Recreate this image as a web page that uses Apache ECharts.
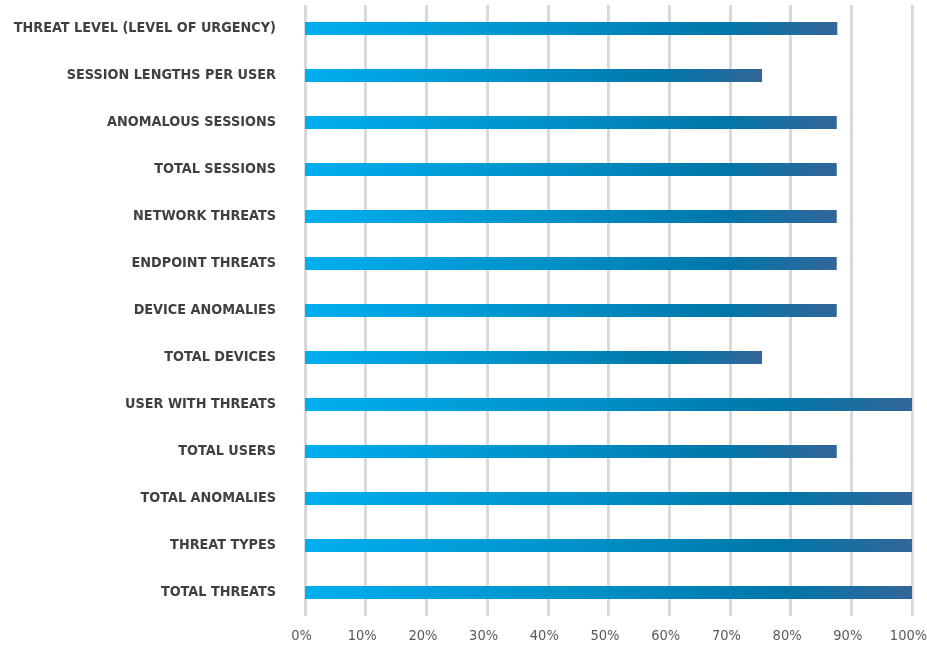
<!DOCTYPE html>
<html>
<head>
<meta charset="utf-8">
<script src="https://cdn.jsdelivr.net/npm/echarts@6/dist/echarts.min.js"></script>
<style>
	html, body { margin: 0; padding: 0; background: #ffffff; }
	#main { width: 927px; height: 651px; }
</style>
</head>
<body>
<div id="main"></div>
<script>
	// categories from bottom to top (category axis draws first item at bottom)
	var categories = [
		'TOTAL THREATS',
		'THREAT TYPES',
		'TOTAL ANOMALIES',
		'TOTAL USERS',
		'USER WITH THREATS',
		'TOTAL DEVICES',
		'DEVICE ANOMALIES',
		'ENDPOINT THREATS',
		'NETWORK THREATS',
		'TOTAL SESSIONS',
		'ANOMALOUS SESSIONS',
		'SESSION LENGTHS PER USER',
		'THREAT LEVEL (LEVEL OF URGENCY)'
	];
	var values = [100, 100, 100, 87.6, 100, 75.3, 87.6, 87.6, 87.6, 87.6, 87.6, 75.3, 87.7];

	var myChart = echarts.init(document.getElementById('main'));
	myChart.setOption({
		animation: false,
		grid: {
			left: 305,
			right: 15,
			top: 5,
			bottom: 35,
			containLabel: false,
			outerBoundsMode: 'none'
		},
		xAxis: {
			type: 'value',
			min: 0,
			max: 100,
			interval: 10,
			axisLine: { show: false },
			axisTick: { show: false },
			splitLine: {
				show: true,
				lineStyle: { color: '#d9d9d9', width: 3 }
			},
			axisLabel: {
				margin: 13,
				color: '#595959',
				fontFamily: '"DejaVu Sans Condensed", Roboto, sans-serif',
				fontSize: 14.5,
				padding: [0, 7, 0, 0],
				formatter: '{value}%'
			}
		},
		yAxis: {
			type: 'category',
			data: categories,
			axisLine: { show: false },
			axisTick: { show: false },
			axisLabel: {
				margin: 29,
				color: '#404040',
				fontFamily: '"DejaVu Sans Condensed", Roboto, sans-serif',
				fontWeight: 'bold',
				fontSize: 14.3
			}
		},
		series: [{
			type: 'bar',
			data: values,
			barWidth: 13,
			itemStyle: {
				color: new echarts.graphic.LinearGradient(0, 0, 1, 0, [
					{ offset: 0, color: '#00aeef' },
					{ offset: 0.45, color: '#0091c9' },
					{ offset: 0.78, color: '#0077a9' },
					{ offset: 1, color: '#336699' }
				])
			}
		}]
	});
</script>
</body>
</html>
